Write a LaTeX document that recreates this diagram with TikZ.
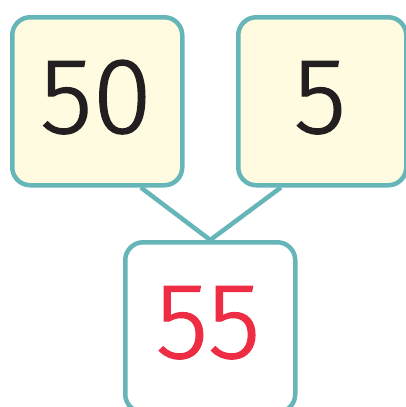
\documentclass[tikz,border=0pt]{standalone}
\usepackage{fontspec}
\setmainfont{Fira Sans}[UprightFont=* Light]
\newfontfamily\numfont{Fira Sans Light}[FakeBold=1.2]
\usetikzlibrary{calc}
\definecolor{teal}{HTML}{66B5B9}
\definecolor{cream}{HTML}{FFFBE0}
\definecolor{numred}{HTML}{EE2D45}
\definecolor{numblack}{HTML}{231F20}
\tikzset{
  box/.style={draw=teal, line width=4.5pt, rounded corners=18pt, inner sep=0pt, anchor=north west},
  topbox/.style={box, fill=cream},
  num/.style={font=\numfont\fontsize{108}{108}\selectfont, anchor=base, inner sep=0pt},
  link/.style={draw=teal, line width=4.5pt}
}
\begin{document}
\begin{tikzpicture}[x=1pt,y=-1pt]
\useasboundingbox (0,0) rectangle (406,407);
\clip (0,0) rectangle (406,407);
\node[topbox, minimum width=170pt, minimum height=168pt] (L) at (10,15) {};
\node[topbox, minimum width=168pt, minimum height=168pt] (R) at (236,15) {};
\node[box, fill=white, minimum width=170pt, minimum height=170pt] (B) at (123,240) {};
\coordinate (Lc) at ($(L.south west)!0.75!(L.south east)$);
\coordinate (Rc) at ($(R.south west)!0.26!(R.south east)$);
\draw[link] (Lc) -- (B.north) -- (Rc);
\node[num, text=numblack] (t50) at (96,133) {50};
\node[num, text=numblack] (t5) at (320,133) {5};
\node[num, text=numred] (t55) at (208,358) {55};
\end{tikzpicture}
\end{document}
